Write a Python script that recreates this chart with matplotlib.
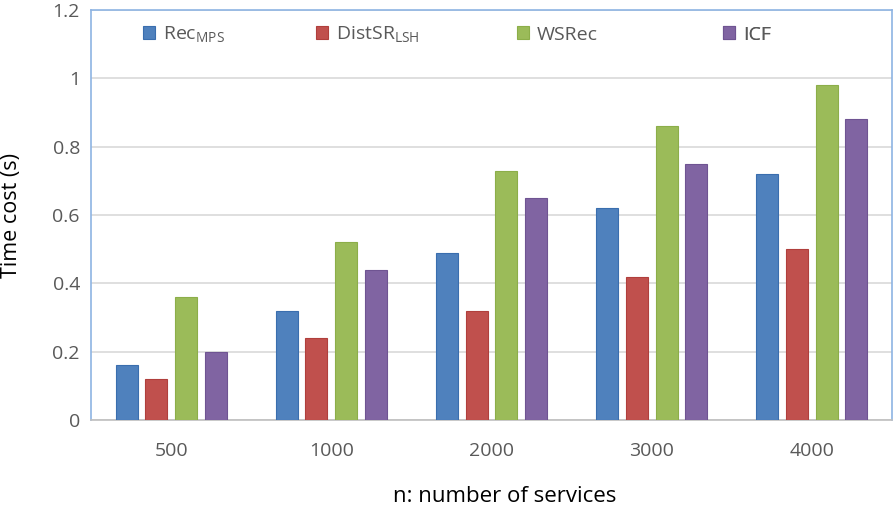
import matplotlib
matplotlib.use("Agg")
import matplotlib.pyplot as plt
import numpy as np

categories = ["500", "1000", "2000", "3000", "4000"]
series_names = [r"Rec$_{\mathregular{MPS}}$", r"DistSR$_{\mathregular{LSH}}$", "WSRec", "ICF"]
rec_mps = [0.16, 0.32, 0.49, 0.62, 0.72]
distsr_lsh = [0.12, 0.24, 0.32, 0.42, 0.50]
wsrec = [0.36, 0.52, 0.73, 0.86, 0.98]
icf = [0.20, 0.44, 0.65, 0.75, 0.88]
yticks = [0, 0.2, 0.4, 0.6, 0.8, 1, 1.2]
ytick_labels = ["0", "0.2", "0.4", "0.6", "0.8", "1", "1.2"]

colors = ["#4F81BD", "#C0504D", "#9BBB59", "#8064A2"]
edges = ["#3A6EAE", "#B03F3C", "#8CAE49", "#6F5492"]

plt.rcParams['font.family'] = ['Open Sans', 'DejaVu Sans']
plt.rcParams['mathtext.fontset'] = 'custom'
plt.rcParams['mathtext.rm'] = 'Open Sans'

W, H = 896, 509
fig = plt.figure(figsize=(W / 100, H / 100), dpi=100)
L, R, T, B = 91, 892, 10, 420
ax = fig.add_axes([L / W, 1 - B / H, (R - L) / W, (B - T) / H])

x = np.arange(len(categories))
data = [rec_mps, distsr_lsh, wsrec, icf]
step = 0.185
width = 0.1375
bars = []
for i, (vals, c, e, name) in enumerate(zip(data, colors, edges, series_names)):
    b = ax.bar(x + (i - 1.5) * step, vals, width, color=c, edgecolor=e, linewidth=0.8, label=name, zorder=3)
    bars.append(b)

ax.set_xlim(-0.5, len(categories) - 0.5)
ax.set_ylim(0, 1.2)
ax.set_yticks(yticks)
ax.set_yticklabels(ytick_labels)
ax.set_xticks(x)
ax.set_xticklabels(categories)
ax.yaxis.grid(True, color="#D9D9D9", linewidth=1.2, zorder=0)
ax.tick_params(axis='both', length=0, labelsize=14, colors="#595959")
ax.tick_params(axis='x', pad=16)
ax.tick_params(axis='y', pad=8)
for s in ["left", "right", "top"]:
    ax.spines[s].set_color("#8EB4E3")
    ax.spines[s].set_linewidth(1.2)
ax.spines["bottom"].set_color("#BFBFBF")
ax.spines["bottom"].set_linewidth(1.2)

ax.set_ylabel("Time cost (s)", fontsize=15.5, color="black", va="center")
ax.yaxis.set_label_coords((12 - L) / (R - L), 0.5)
ax.set_xlabel("n: number of services", fontsize=16, color="black", va="center")
ax.xaxis.set_label_coords((505 - L) / (R - L), (B - 496) / (B - T))

# legend entries placed individually, like the original
leg_x = [143, 316, 517, 723]
leg_y = 34.5
for i, (b, name) in enumerate(zip(bars, series_names)):
    lg = ax.legend([b], [name], loc="center left",
                   bbox_to_anchor=((leg_x[i] - L) / (R - L), (B - leg_y) / (B - T)),
                   frameon=False, fontsize=14, borderpad=0, borderaxespad=0,
                   handlelength=0.62, handleheight=0.62, handletextpad=0.4,
                   labelcolor="#595959")
    ax.add_artist(lg)

fig.savefig("out.png", dpi=100)
